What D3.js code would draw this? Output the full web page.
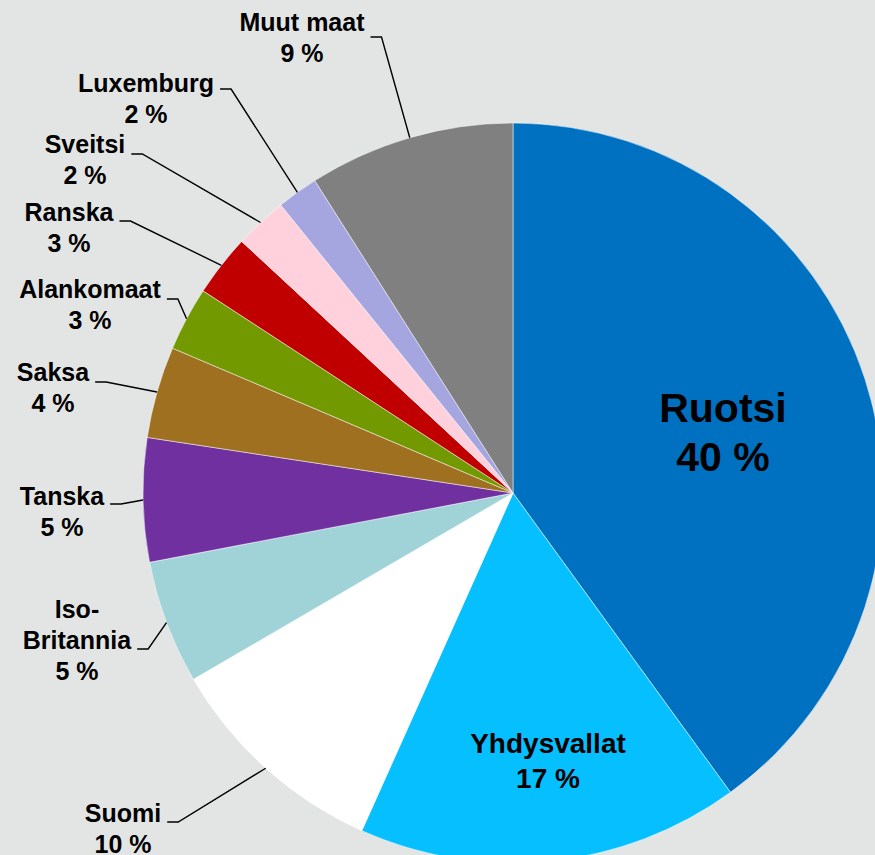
<!DOCTYPE html>
<html>
<head>
<meta charset="utf-8">
<script src="https://cdn.jsdelivr.net/npm/d3@7"></script>
<style>
  html, body { margin: 0; padding: 0; background: #e3e5e4; }
  svg { display: block; font-family: "Liberation Sans", Arial, sans-serif; font-weight: bold; }
</style>
</head>
<body>
<svg id="chart"></svg>
<script>
const countries = ["Ruotsi", "Yhdysvallat", "Suomi", "Iso-Britannia", "Tanska", "Saksa",
  "Alankomaat", "Ranska", "Sveitsi", "Luxemburg", "Muut maat"];
const shares = [40.0, 16.7, 9.9, 5.4, 5.4, 4.0, 2.8, 2.7, 2.3, 1.8, 9.0];
const colors = ["#0070c0", "#05bfff", "#ffffff", "#a0d3d8", "#7030a0", "#9e701f",
  "#739900", "#c00000", "#ffd1dc", "#a5a5df", "#808080"];

// label layout: centre x, first baseline, line the leader hangs on, leader dy
const labelLayout = [
  { x: 723, y: 422, inside: true, size: 41, lh: 49 },
  { x: 548, y: 753, inside: true, size: 28, lh: 35 },
  { x: 123, y: 822, line: 0, dy: 0 },
  { x: 77, y: 618, line: 1, dy: 0 },
  { x: 62, y: 505, line: 0, dy: -1 },
  { x: 53, y: 381, line: 0, dy: 1 },
  { x: 90, y: 298, line: 0, dy: 1 },
  { x: 69, y: 221, line: 0, dy: 0 },
  { x: 85, y: 153, line: 0, dy: 1 },
  { x: 146, y: 92, line: 0, dy: -3 },
  { x: 302, y: 31, line: 0, dy: 6 }
];

const width = 875;
const height = 855;
const cx = 513;
const cy = 493;
const radius = 370;

const svg = d3.select("#chart")
  .attr("width", width)
  .attr("height", height);

svg.append("rect")
  .attr("width", width)
  .attr("height", height)
  .attr("fill", "#e3e5e4");

const data = countries.map((c, i) => ({ name: c, value: shares[i], color: colors[i], layout: labelLayout[i] }));

const pie = d3.pie().sort(null).value((d) => d.value);
const arc = d3.arc().innerRadius(0).outerRadius(radius);
const arcs = pie(data);

const g = svg.append("g").attr("transform", `translate(${cx},${cy})`);

g.selectAll("path")
  .data(arcs)
  .enter()
  .append("path")
  .attr("d", arc)
  .attr("fill", (d) => d.data.color)
  .attr("stroke", "#ffffff")
  .attr("stroke-width", 0.5);

const pct = d3.format(".0f");

const labels = svg.append("g");

arcs.forEach((d) => {
  const L = d.data.layout;
  const lines = d.data.name.replace("-", "-\n").split("\n").concat(pct(d.data.value) + " %");
  const size = L.size || 25;
  const lh = L.lh || 31;

  const text = labels.append("text")
    .attr("text-anchor", "middle")
    .attr("font-size", size)
    .attr("fill", "#000");

  const spans = lines.map((t, i) =>
    text.append("tspan")
      .attr("x", L.x)
      .attr("y", L.y + i * lh)
      .text(t)
  );

  if (L.inside) return;

  // leader: short horizontal run from the label, then to the arc at mid angle
  const w = spans[L.line].node().getComputedTextLength();
  const x0 = L.x + w / 2 + 6;
  const y0 = L.y + L.line * lh + L.dy;
  const mid = (d.startAngle + d.endAngle) / 2;
  const ex = cx + radius * Math.sin(mid);
  const ey = cy - radius * Math.cos(mid);

  labels.append("path")
    .attr("d", d3.line()([[x0, y0], [x0 + 11, y0], [ex, ey]]))
    .attr("fill", "none")
    .attr("stroke", "#000")
    .attr("stroke-width", 1.4);
});
</script>
</body>
</html>
